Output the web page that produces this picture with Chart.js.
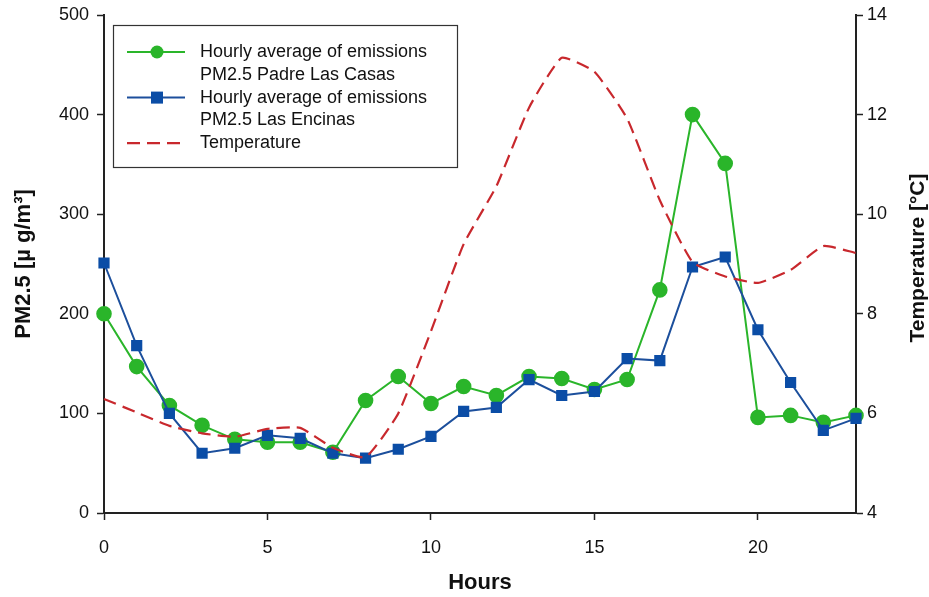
<!DOCTYPE html>
<html>
<head>
<meta charset="utf-8">
<script src="https://cdn.jsdelivr.net/npm/chart.js@4.4.1/dist/chart.umd.min.js"></script>
<style>
  html, body { margin: 0; padding: 0; background: #fff; }
  #wrap { width: 929px; height: 597px; position: relative; }
</style>
</head>
<body>
<div id="wrap"><canvas id="c" width="929" height="597"></canvas></div>
<script>
const hours = [0,1,2,3,4,5,6,7,8,9,10,11,12,13,14,15,16,17,18,19,20,21,22,23];
const pmPadreLasCasas = [200,147,108,88,74,71,71,61,113,137,110,127,118,137,135,124,134,224,400,351,96,98,91,98];
const pmLasEncinas = [251,168,100,60,65,78,75,60,55,64,77,102,106,134,118,122,155,153,247,257,184,131,83,95];
const temperature = [6.29,6.02,5.75,5.6,5.53,5.69,5.71,5.31,5.12,6.0,7.65,9.4,10.56,12.14,13.14,12.86,11.92,10.28,9.04,8.75,8.62,8.88,9.36,9.22];
const xTicks = [0,5,10,15,20];
const leftTicks = [0,100,200,300,400,500];
const rightTicks = [4,6,8,10,12,14];
const legendLines = [
  ["Hourly average of emissions", "PM2.5 Padre Las Casas"],
  ["Hourly average of emissions", "PM2.5 Las Encinas"],
  ["Temperature"]
];
const xTitle = "Hours";
const leftTitle = "PM2.5 [µ g/m³]";
const rightTitle = "Temperature [°C]";

const FONT = "'Liberation Sans', Arial, sans-serif";
const GREEN = "#2AB52A";
const BLUE = "#1C4F9C";
const BLUE_FILL = "#0B4DA6";
const RED = "#C8282D";

const toXY = (arr) => arr.map((v, i) => ({ x: hours[i], y: v }));

const customLegend = {
  id: 'customLegend',
  afterDatasetsDraw(chart) {
    const ctx = chart.ctx;
    ctx.save();
    const bx = 113.5, by = 25.5, bw = 344, bh = 142;
    ctx.fillStyle = '#fff';
    ctx.fillRect(bx, by, bw, bh);
    ctx.strokeStyle = '#333';
    ctx.lineWidth = 1.2;
    ctx.strokeRect(bx, by, bw, bh);
    ctx.font = "18px " + FONT;
    ctx.textBaseline = 'middle';
    ctx.textAlign = 'left';
    const lineH = 22.8;
    let row = 0;
    const y0 = 52;
    chart.data.datasets.forEach((ds, i) => {
      const y = y0 + row * lineH;
      ctx.strokeStyle = ds.borderColor;
      ctx.lineWidth = ds.borderWidth;
      ctx.setLineDash(ds.borderDash || []);
      ctx.beginPath();
      ctx.moveTo(127, y); ctx.lineTo(185, y);
      ctx.stroke();
      ctx.setLineDash([]);
      if (ds.pointRadius > 0) {
        ctx.fillStyle = ds.pointBackgroundColor;
        if (ds.pointStyle === 'rect') {
          ctx.fillRect(157 - 6, y - 6, 12, 12);
        } else {
          ctx.beginPath(); ctx.arc(157, y, 6.5, 0, Math.PI * 2); ctx.fill();
        }
      }
      ctx.fillStyle = '#111';
      legendLines[i].forEach((t, k) => {
        ctx.fillText(t, 200, y + k * lineH);
      });
      row += legendLines[i].length;
    });
    ctx.restore();
  }
};

const rightTitlePlugin = {
  id: 'rightTitle',
  afterDraw(chart) {
    const ctx = chart.ctx;
    ctx.save();
    ctx.translate(918, 258);
    ctx.rotate(-Math.PI / 2);
    ctx.font = "bold 21px " + FONT;
    ctx.fillStyle = '#111';
    ctx.textAlign = 'center';
    ctx.textBaseline = 'middle';
    ctx.fillText(rightTitle, 0, 0);
    ctx.restore();
  }
};

new Chart(document.getElementById('c'), {
  type: 'line',
  data: {
    datasets: [
      {
        label: legendLines[0].join(' '),
        data: toXY(pmPadreLasCasas),
        yAxisID: 'y',
        borderColor: GREEN,
        backgroundColor: GREEN,
        pointBackgroundColor: GREEN,
        pointBorderColor: GREEN,
        borderWidth: 2,
        pointRadius: 6.8,
        pointStyle: 'circle',
        tension: 0,
        clip: false,
        order: 3
      },
      {
        label: legendLines[1].join(' '),
        data: toXY(pmLasEncinas),
        yAxisID: 'y',
        borderColor: BLUE,
        backgroundColor: BLUE_FILL,
        pointBackgroundColor: BLUE_FILL,
        pointBorderColor: BLUE_FILL,
        borderWidth: 2,
        pointRadius: 6.5,
        pointStyle: 'rect',
        tension: 0,
        clip: false,
        order: 2
      },
      {
        label: legendLines[2].join(' '),
        data: toXY(temperature),
        yAxisID: 'y1',
        borderColor: RED,
        backgroundColor: RED,
        pointBackgroundColor: RED,
        borderWidth: 2.2,
        borderDash: [13, 7],
        pointRadius: 0,
        tension: 0.15,
        clip: false,
        order: 1
      }
    ]
  },
  options: {
    responsive: false,
    animation: false,
    devicePixelRatio: 1,
    layout: { padding: { left: 0, right: 0, top: 15, bottom: 0 } },
    plugins: {
      legend: { display: false },
      tooltip: { enabled: false }
    },
    scales: {
      x: {
        type: 'linear',
        min: 0,
        max: 23,
        afterBuildTicks: (s) => { s.ticks = xTicks.map(v => ({ value: v })); },
        afterFit: (s) => { s.height = 84; s.paddingLeft = 0; s.paddingRight = 0; },
        ticks: { font: { size: 18, family: FONT }, color: '#111', padding: 17, maxRotation: 0 },
        grid: { display: true, drawOnChartArea: false, drawTicks: true, tickLength: 7, color: '#222', tickWidth: 1.5 },
        border: { display: true, color: '#222', width: 2 },
        title: { display: true, text: xTitle, font: { size: 22, weight: 'bold', family: FONT }, color: '#111', padding: { top: 0, bottom: 1 } }
      },
      y: {
        type: 'linear',
        position: 'left',
        min: 0,
        max: 500,
        afterBuildTicks: (s) => { s.ticks = leftTicks.map(v => ({ value: v })); },
        afterFit: (s) => { s.width = 104; s.paddingTop = 0; s.paddingBottom = 0; },
        ticks: { font: { size: 18, family: FONT }, color: '#111', padding: 8 },
        grid: { display: true, drawOnChartArea: false, drawTicks: true, tickLength: 7, color: '#222', tickWidth: 1.5 },
        border: { display: true, color: '#222', width: 2 },
        title: { display: true, text: leftTitle, font: { size: 22, weight: 'bold', family: FONT }, color: '#111', padding: { top: 11, bottom: 0 } }
      },
      y1: {
        type: 'linear',
        position: 'right',
        min: 4,
        max: 14,
        afterBuildTicks: (s) => { s.ticks = rightTicks.map(v => ({ value: v })); },
        afterFit: (s) => { s.width = 73; s.paddingTop = 0; s.paddingBottom = 0; },
        ticks: { font: { size: 18, family: FONT }, color: '#111', padding: 4 },
        grid: { display: true, drawOnChartArea: false, drawTicks: true, tickLength: 7, color: '#222', tickWidth: 1.5 },
        border: { display: true, color: '#222', width: 2 },
        title: { display: false, text: rightTitle }
      }
    }
  },
  plugins: [customLegend, rightTitlePlugin]
});
</script>
</body>
</html>
